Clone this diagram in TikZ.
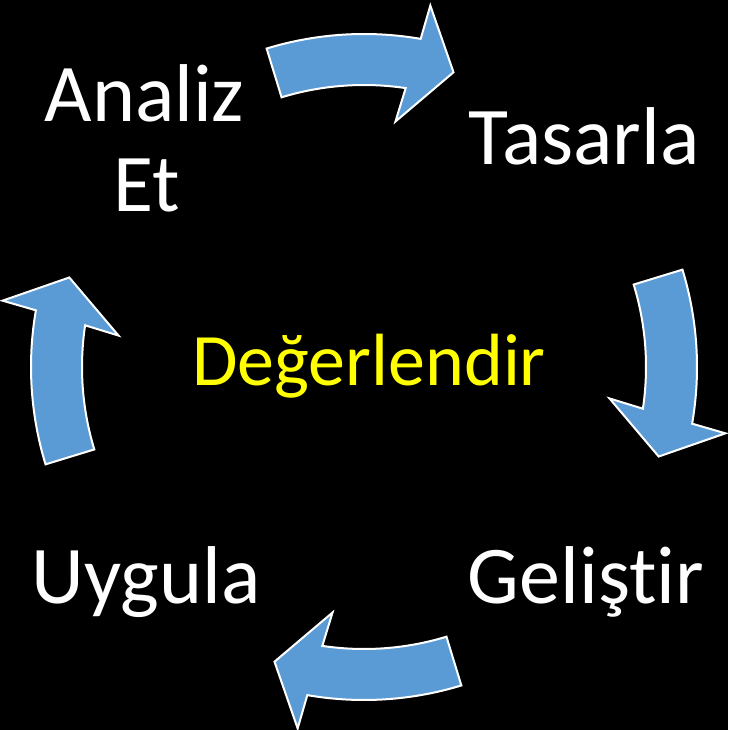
\documentclass[tikz,border=0pt]{standalone}
\usepackage{fontspec}
\setmainfont{Carlito}[Ligatures=NoCommon]
\definecolor{arrowblue}{HTML}{5B9BD5}
\definecolor{labelyellow}{HTML}{FFFF00}
\tikzset{
  cyclearrow/.style={fill=arrowblue, draw=white, line width=1.5pt, line join=miter},
  steplabel/.style={text=white, font=\fontsize{61.5}{72}\selectfont, inner sep=0pt, anchor=base},
  centerlabel/.style={text=labelyellow, font=\fontsize{55.5}{66}\selectfont, inner sep=0pt, anchor=base},
}
\begin{document}
\begin{tikzpicture}[x=0.75pt,y=0.75pt]
\fill[black] (0,0) rectangle (728,-730);
\useasboundingbox (0,0) rectangle (728,-730);
\foreach \t in {90,0,-90,180}{
  \draw[cyclearrow, shift={(364,-367)}]
    ({\t+17}:333) arc[start angle={\t+17}, end angle={\t-9.8}, radius=249.75pt]
    -- ({\t-10.4}:367.5) -- ({\t-16.9}:308) -- ({\t-7.3}:247.5) -- ({\t-8.5}:282)
    arc[start angle={\t-8.5}, end angle={\t+17}, radius=211.5pt] -- cycle;
}
\node[steplabel] (analiz) at (144.5,-121.7) {Analiz};
\node[steplabel] (analizet) at (147,-211.7) {Et};
\node[steplabel] (tasarla) at (584,-165) {Tasarla};
\node[steplabel] (gelistir) at (586,-603) {Geliştir};
\node[steplabel] (uygula) at (146,-603) {Uygula};
\node[centerlabel] (degerlendir) at (369,-385) {Değerlendir};
\end{tikzpicture}
\end{document}
